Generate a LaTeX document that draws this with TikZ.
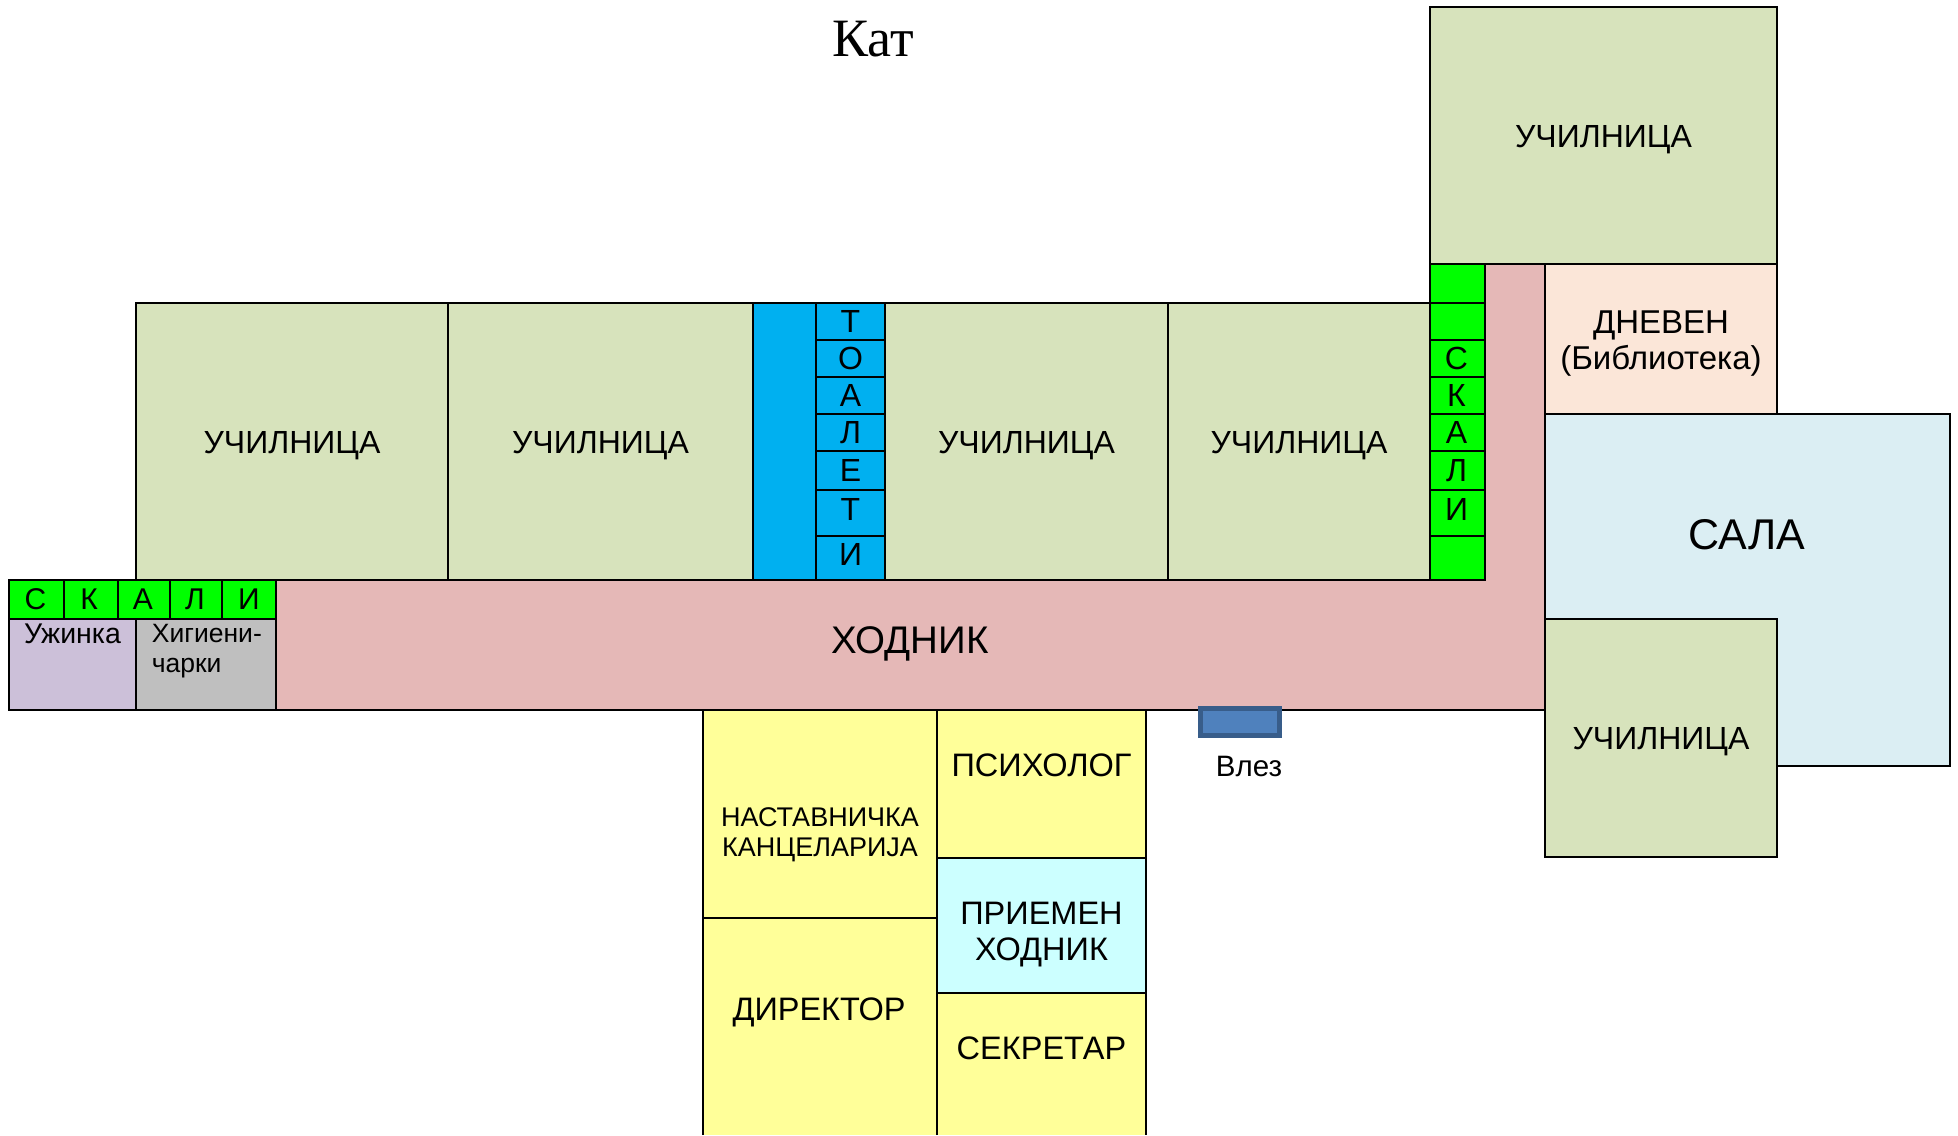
\documentclass[tikz,border=0pt]{standalone}
\usepackage{fontspec}
\setmainfont{Liberation Sans}
\newfontfamily\titlefont{Liberation Serif}
\definecolor{classgreen}{HTML}{D7E3BC}
\definecolor{hallpink}{HTML}{E5B8B7}
\definecolor{stairgreen}{HTML}{00FF00}
\definecolor{toiletblue}{HTML}{00B0F0}
\definecolor{readpeach}{HTML}{FBE6D8}
\definecolor{salablue}{HTML}{DBEEF3}
\definecolor{snacklilac}{HTML}{CCC0D9}
\definecolor{cleangray}{HTML}{BFBFBF}
\definecolor{officeyellow}{HTML}{FFFF99}
\definecolor{receptcyan}{HTML}{CCFFFF}
\definecolor{doorfill}{HTML}{4F81BD}
\definecolor{doorline}{HTML}{385D8A}
\begin{document}
\begin{tikzpicture}[
	x=1pt,y=-1pt,
	line width=1.7pt,
	every node/.style={inner sep=0pt,align=center,font=\fontsize{32}{36}\selectfont},
	classroom/.style={draw,fill=classgreen},
	roomname/.style={midway,yshift=-4pt},
	hall/.style={draw,fill=hallpink},
	stair/.style={draw,fill=stairgreen},
	toilet/.style={draw,fill=toiletblue},
	office/.style={draw,fill=officeyellow},
	officename/.style={font=\fontsize{32.5}{36}\selectfont},
	]
\useasboundingbox (0,0) rectangle (1958,1135);
% hallway and hall behind the rooms
\draw[hall] (276,580) -- (1485,580) -- (1485,264) -- (1545,264) -- (1545,710) -- (276,710) -- cycle;
\node (hodnik) at (910,643.5) [font=\fontsize{38.5}{42}\selectfont] {ХОДНИК};
\draw[draw,fill=salablue] (1545,414) rectangle (1950,766);
\node (sala) at (1747,534.5) [font=\fontsize{43}{46}\selectfont] {САЛА};
\draw[draw,fill=readpeach] (1545,264) rectangle (1777,414);
\node (dneven) at (1661,344) [font=\fontsize{33}{36}\selectfont] {ДНЕВЕН\\(Библиотека)};
% classrooms
\draw[classroom] (136,303) rectangle (448,580) node (uc1) [roomname] {УЧИЛНИЦА};
\draw[classroom] (448,303) rectangle (753,580) node (uc2) [roomname] {УЧИЛНИЦА};
\draw[classroom] (885,303) rectangle (1168,580) node (uc3) [roomname] {УЧИЛНИЦА};
\draw[classroom] (1168,303) rectangle (1430,580) node (uc4) [roomname] {УЧИЛНИЦА};
\draw[classroom] (1430,7) rectangle (1777,264) node (uc5) [roomname] {УЧИЛНИЦА};
\draw[classroom] (1545,619) rectangle (1777,857) node (uc6) [roomname] {УЧИЛНИЦА};
% toilets
\draw[toilet] (753,303) rectangle (816,580);
\draw[toilet] (816,303) rectangle (885,340) node (t1) [midway] {Т};
\draw[toilet] (816,340) rectangle (885,377) node (t2) [midway] {О};
\draw[toilet] (816,377) rectangle (885,414) node (t3) [midway] {А};
\draw[toilet] (816,414) rectangle (885,451) node (t4) [midway] {Л};
\draw[toilet] (816,451) rectangle (885,490) node (t5) [midway] {Е};
\draw[toilet] (816,490) rectangle (885,536) node (t6) [midway,yshift=4pt] {Т};
\draw[toilet] (816,536) rectangle (885,580) node (t7) [midway,yshift=4pt] {И};
% stairs on the right
\draw[stair] (1430,264) rectangle (1485,303);
\draw[stair] (1430,303) rectangle (1485,340);
\draw[stair] (1430,340) rectangle (1485,377) node (s1) [midway,xshift=-1pt] {С};
\draw[stair] (1430,377) rectangle (1485,414) node (s2) [midway,xshift=-1pt] {К};
\draw[stair] (1430,414) rectangle (1485,451) node (s3) [midway,xshift=-1pt] {А};
\draw[stair] (1430,451) rectangle (1485,490) node (s4) [midway,xshift=-1pt] {Л};
\draw[stair] (1430,490) rectangle (1485,536) node (s5) [midway,xshift=-1pt,yshift=4pt] {И};
\draw[stair] (1430,536) rectangle (1485,580);
% stairs on the left
\begin{scope}[every node/.append style={font=\fontsize{30}{33}\selectfont}]
\draw[stair] (9,580) rectangle (64,619) node (l1) [midway,xshift=-1pt] {С};
\draw[stair] (64,580) rectangle (118,619) node (l2) [midway,xshift=-2pt] {К};
\draw[stair] (118,580) rectangle (170,619) node (l3) [midway,xshift=-1pt] {А};
\draw[stair] (170,580) rectangle (222,619) node (l4) [midway,xshift=-1pt] {Л};
\draw[stair] (222,580) rectangle (276,619) node (l5) [midway] {И};
\end{scope}
\draw[draw,fill=snacklilac] (9,619) rectangle (136,710);
\node (uzinka) at (72.5,643) [anchor=base,font=\fontsize{28.5}{30}\selectfont] {Ужинка};
\draw[draw,fill=cleangray] (136,619) rectangle (276,710);
\node (higiena) at (151,623) [anchor=north west,align=left,font=\fontsize{26.5}{30}\selectfont] {Хигиени-\\чарки};
% offices
\draw[office] (703,710) rectangle (937,918);
\node (nastav) at (820,834.5) [font=\fontsize{27}{30}\selectfont] {НАСТАВНИЧКА\\КАНЦЕЛАРИЈА};
\draw[office] (703,1135) -- (703,918) -- (937,918) -- (937,1135);
\node (direktor) at (819,1012.5) [officename] {ДИРЕКТОР};
\draw[office] (937,710) rectangle (1146,858);
\node (psiholog) at (1041.5,765) [officename] {ПСИХОЛОГ};
\draw[draw,fill=receptcyan] (937,858) rectangle (1146,993);
\node (priemen) at (1041.5,935) [officename] {ПРИЕМЕН\\ХОДНИК};
\draw[office] (937,1135) -- (937,993) -- (1146,993) -- (1146,1135);
\node (sekretar) at (1041.5,1048) [officename] {СЕКРЕТАР};
% entrance
\draw[draw=doorline,fill=doorfill,line width=5pt] (1200.5,708.5) rectangle (1279.5,735);
\node (vlez) at (1249,776) [anchor=base,font=\fontsize{29.5}{33}\selectfont] {Влез};
\node (kat) at (873,56) [anchor=base,font=\titlefont\fontsize{54}{58}\selectfont] {Кат};
\end{tikzpicture}
\end{document}
